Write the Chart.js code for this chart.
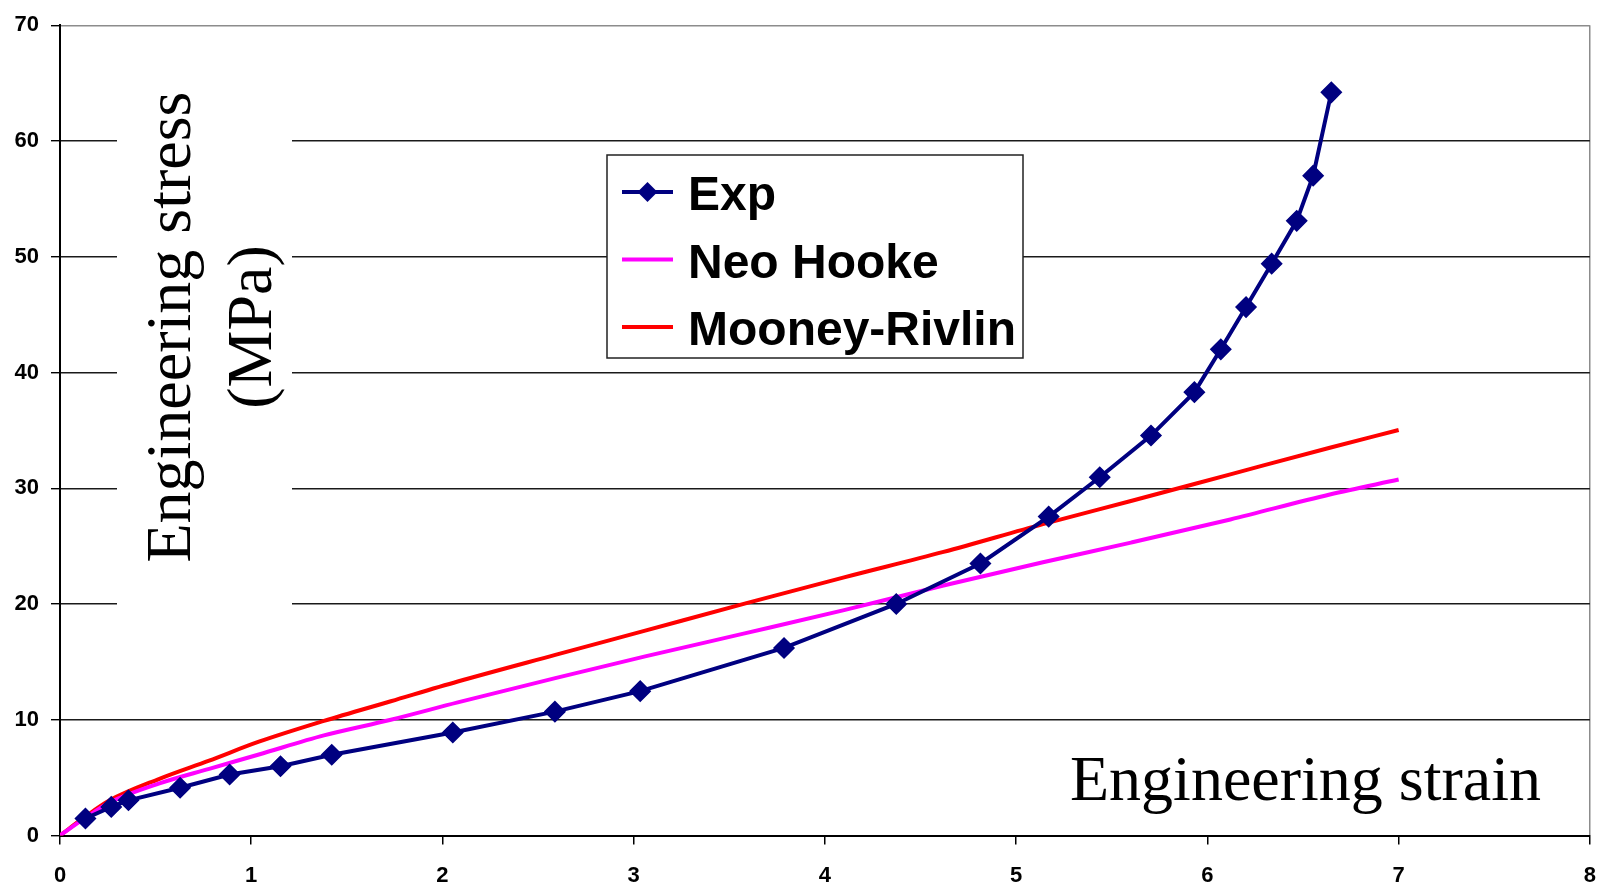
<!DOCTYPE html>
<html>
<head>
<meta charset="utf-8">
<title>Engineering stress vs strain</title>
<script src="https://cdn.jsdelivr.net/npm/chart.js@4/dist/chart.umd.min.js"></script>
<style>
  body { margin: 0; background: #fff; }
  #chart { display: block; }
</style>
</head>
<body>
<canvas id="chart" width="1614" height="885"></canvas>
<script>
'use strict';

// data
var seriesNames = ['Exp', 'Neo Hooke', 'Mooney-Rivlin'];
var expStrain = [0.133, 0.268, 0.358, 0.628, 0.887, 1.153, 1.421, 2.054, 2.588, 3.034, 3.786, 4.373, 4.813, 5.17, 5.437, 5.705, 5.932, 6.07, 6.202, 6.336, 6.467, 6.553, 6.648];
var expStress = [1.47, 2.47, 3.04, 4.13, 5.27, 5.98, 6.98, 8.9, 10.7, 12.47, 16.2, 20.0, 23.5, 27.55, 30.95, 34.55, 38.3, 42.0, 45.65, 49.4, 53.1, 57.0, 64.2];
var modelStrain = [0, 0.13, 0.26, 0.52, 0.78, 1.04, 1.38, 1.73, 2.08, 2.59, 3.06, 3.58, 4.1, 4.62, 5.14, 5.6, 6.12, 6.64, 7.0];
var neoStress = [0, 1.5, 2.85, 4.5, 5.76, 7.0, 8.65, 10.0, 11.5, 13.6, 15.47, 17.46, 19.47, 21.6, 23.6, 25.3, 27.3, 29.46, 30.75];
var mooneyStress = [0, 1.6, 3.04, 4.9, 6.47, 8.1, 9.9, 11.6, 13.3, 15.6, 17.7, 20.03, 22.3, 24.5, 26.9, 28.9, 31.2, 33.5, 35.03];
var xTicks = [0, 1, 2, 3, 4, 5, 6, 7, 8];
var yTicks = [0, 10, 20, 30, 40, 50, 60, 70];
var xTitle = 'Engineering strain';
var yTitle = ['Engineering stress', '(MPa)'];

var colors = ['#000080', '#ff00ff', '#ff0000'];

function toPoints(xs, ys){
  var pts = [];
  for (var i = 0; i < xs.length; i++) {
    pts.push({x: xs[i], y: ys[i]});
  }
  return pts;
}

// titles and legend sit inside the plot with white boxes behind them
var overlayPlugin = {
  id: 'overlay',
  beforeDatasetsDraw: function(chart){
    var ctx = chart.ctx;
    ctx.save();
    ctx.fillStyle = '#fff';
    ctx.fillRect(117, 85, 175, 530);
    ctx.fillStyle = '#000';
    ctx.font = '64px "Liberation Serif", "Times New Roman", serif';
    ctx.textBaseline = 'alphabetic';
    ctx.textAlign = 'center';
    ctx.translate(0, 327);
    ctx.rotate(-Math.PI / 2);
    ctx.fillText(yTitle[0], 0, 190);
    ctx.fillText(yTitle[1], 0, 271);
    ctx.restore();

    ctx.save();
    ctx.fillStyle = '#000';
    ctx.font = '64px "Liberation Serif", "Times New Roman", serif';
    ctx.textAlign = 'left';
    ctx.textBaseline = 'alphabetic';
    ctx.fillText(xTitle, 1070, 800);
    ctx.restore();
  },
  afterDraw: function(chart){
    var ctx = chart.ctx;
    var box = {x: 607, y: 155, w: 416, h: 203};
    ctx.save();
    ctx.fillStyle = '#fff';
    ctx.fillRect(box.x, box.y, box.w, box.h);
    ctx.strokeStyle = '#222';
    ctx.lineWidth = 1.5;
    ctx.strokeRect(box.x, box.y, box.w, box.h);
    ctx.font = 'bold 48px "Liberation Sans", Arial, sans-serif';
    ctx.textAlign = 'left';
    ctx.textBaseline = 'alphabetic';
    chart.data.datasets.forEach(function(ds, i){
      var base = 210 + i * 67.5;
      var mid = base - 18;
      ctx.strokeStyle = ds.borderColor;
      ctx.lineWidth = 4;
      ctx.beginPath();
      ctx.moveTo(622, mid);
      ctx.lineTo(673, mid);
      ctx.stroke();
      if (ds.pointRadius > 0) {
        ctx.fillStyle = ds.pointBackgroundColor;
        ctx.beginPath();
        ctx.moveTo(647.5 - 10, mid);
        ctx.lineTo(647.5, mid - 10);
        ctx.lineTo(647.5 + 10, mid);
        ctx.lineTo(647.5, mid + 10);
        ctx.closePath();
        ctx.fill();
      }
      ctx.fillStyle = '#000';
      ctx.fillText(ds.label, 688, base);
    });
    ctx.restore();
  }
};

var tickFont = {family: '"Liberation Sans", Arial, sans-serif', size: 22, weight: 'bold'};

new Chart(document.getElementById('chart').getContext('2d'), {
  type: 'scatter',
  data: {
    datasets: [
      {
        label: seriesNames[0],
        data: toPoints(expStrain, expStress),
        showLine: true,
        borderColor: colors[0],
        backgroundColor: colors[0],
        pointBackgroundColor: colors[0],
        pointBorderColor: colors[0],
        borderWidth: 4,
        pointStyle: 'rectRot',
        pointRadius: 10,
        pointBorderWidth: 1.5,
        tension: 0
      },
      {
        label: seriesNames[1],
        data: toPoints(modelStrain, neoStress),
        showLine: true,
        borderColor: colors[1],
        backgroundColor: colors[1],
        borderWidth: 4,
        pointRadius: 0,
        cubicInterpolationMode: 'monotone'
      },
      {
        label: seriesNames[2],
        data: toPoints(modelStrain, mooneyStress),
        showLine: true,
        borderColor: colors[2],
        backgroundColor: colors[2],
        borderWidth: 4,
        pointRadius: 0,
        cubicInterpolationMode: 'monotone'
      }
    ]
  },
  options: {
    responsive: false,
    animation: false,
    layout: {padding: {top: 18, right: 11, left: 0, bottom: 0}},
    plugins: {
      legend: {display: false},
      tooltip: {enabled: false}
    },
    scales: {
      x: {
        type: 'linear',
        min: 0,
        max: 8,
        afterFit: function(scale){ scale.height = 49.5; },
        afterBuildTicks: function(scale){
          scale.ticks = xTicks.map(function(v){ return {value: v}; });
        },
        ticks: {font: tickFont, color: '#000', padding: 18, maxRotation: 0},
        grid: {
          color: function(c){ return c.tick && c.tick.value === 8 ? '#8c8c8c' : 'rgba(0,0,0,0)'; },
          tickColor: '#000',
          tickLength: 9,
          lineWidth: 1.5
        },
        border: {color: '#000', width: 2}
      },
      y: {
        type: 'linear',
        min: 0,
        max: 70,
        afterFit: function(scale){ scale.width = 60; },
        afterBuildTicks: function(scale){
          scale.ticks = yTicks.map(function(v){ return {value: v}; });
        },
        ticks: {font: tickFont, color: '#000', padding: 12},
        grid: {
          color: function(c){ return c.tick && c.tick.value === 70 ? '#8c8c8c' : '#1a1a1a'; },
          tickColor: '#000',
          tickLength: 9,
          lineWidth: 1.4
        },
        border: {color: '#000', width: 2}
      }
    }
  },
  plugins: [overlayPlugin]
});
</script>
</body>
</html>
